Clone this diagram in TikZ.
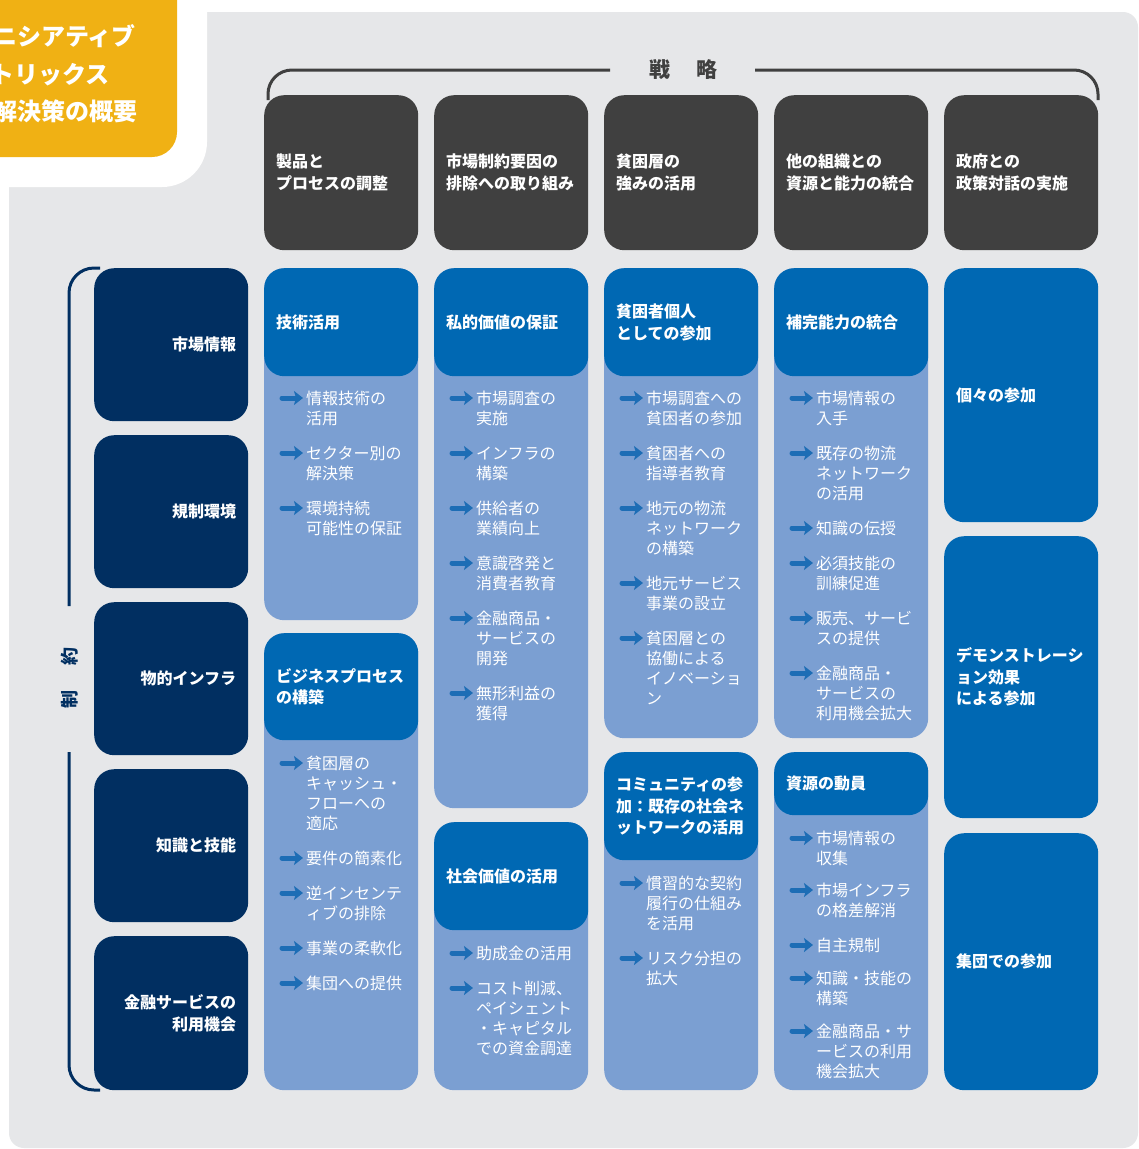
\documentclass[tikz,border=0pt]{standalone}
\usepackage{fontspec}
\setmainfont{Noto Sans CJK JP}
\usetikzlibrary{arrows.meta}
\definecolor{panel}{HTML}{E6E7E9}
\definecolor{yel}{HTML}{F0B114}
\definecolor{darkbx}{HTML}{404040}
\definecolor{navy}{HTML}{012F61}
\definecolor{hblue}{HTML}{0068B3}
\definecolor{lblue}{HTML}{7B9FD2}
\definecolor{bulcol}{HTML}{1D6DB5}
\tikzset{
  boxbase/.style={rounded corners=20pt, inner ysep=0pt, inner xsep=12pt, minimum width=154pt, text width=130pt, anchor=north west},
  darkbox/.style={boxbase, fill=darkbx, text=white, align=left, font=\bfseries\fontsize{16}{22}\selectfont},
  navybox/.style={boxbase, fill=navy, text=white, align=right, font=\bfseries\fontsize{16}{22}\selectfont},
  hdr/.style={boxbase, fill=hblue, text=white, align=left, font=\bfseries\fontsize{16}{21.5}\selectfont},
  bodyst/.style={rounded corners=20pt, inner sep=0pt, minimum width=154pt, anchor=north west, fill=lblue},
  bul/.style={line width=5pt, line cap=round, bulcol, -{Stealth[length=9pt,width=14pt,inset=2pt]}},
  itmtxt/.style={anchor=base west, inner sep=0pt, text=white, font=\fontsize{16}{20}\selectfont},
  bracket/.style={line width=3pt},
}
\newcommand\mycard[6]{%
  \node[bodyst, minimum height={#5-#3}] (#1) at (#2,-#3) {};
  \node[hdr, minimum height={#4-#3}] (#1h) at (#2,-#3) {#6};
}
\newcommand\myitm[4]{%
  \draw[bul] (#2+18,-#3) -- (#2+39,-#3);
  \foreach \lline [count=\k] in {#4} {\node[itmtxt] (#1-\k) at (#2+42,{-(#3+6+20*(\k-1))}) {\lline};}
}
\begin{document}
\begin{tikzpicture}[x=1pt,y=1pt]
\useasboundingbox (0,0) rectangle (1139,-1149);
\clip (0,0) rectangle (1139,-1149);
\fill[white] (0,0) rectangle (1139,-1149);
\fill[panel, rounded corners=15pt] (9,-12) rectangle (1138,-1148);
\fill[white, rounded corners=45pt] (-80,80) rectangle (207,-187);
\fill[yel, rounded corners=25pt] (-80,80) rectangle (177,-157);
\node[anchor=base west, inner sep=0pt, text=white, font=\bfseries\fontsize{24}{24}\selectfont] (y1) at (-7,-45) {ニシアティブ};
\node[anchor=base west, inner sep=0pt, text=white, font=\bfseries\fontsize{24}{24}\selectfont] (y2) at (-10,-83) {トリックス};
\node[anchor=base west, inner sep=0pt, text=white, font=\bfseries\fontsize{24}{24}\selectfont] (y3) at (-7,-120) {解決策の概要};

% strategy bracket
\draw[bracket, darkbx, rounded corners=24pt] (268,-100) -- (268,-70) -- (610,-70);
\draw[bracket, darkbx, rounded corners=24pt] (755,-70) -- (1098,-70) -- (1098,-100);
\node[text=darkbx, font=\bfseries\fontsize{21}{21}\selectfont] (senryaku) at (683,-70) {戦\hspace{26pt}略};

% constraint bracket
\draw[bracket, navy, rounded corners=25pt] (100,-268) -- (69,-268) -- (69,-606);
\draw[bracket, navy, rounded corners=25pt] (69,-752) -- (69,-1090) -- (100,-1090);
\node[rotate=90, text=navy, font=\bfseries\fontsize{18}{18}\selectfont] (seiyaku) at (70,-678) {制\hspace{25pt}約};

% strategy boxes
\node[darkbox, minimum height=155pt] (s1) at (264,-95) {製品と\\プロセスの調整};
\node[darkbox, minimum height=155pt] (s2) at (434,-95) {市場制約要因の\\排除への取り組み};
\node[darkbox, minimum height=155pt] (s3) at (604,-95) {貧困層の\\強みの活用};
\node[darkbox, minimum height=155pt] (s4) at (774,-95) {他の組織との\\資源と能力の統合};
\node[darkbox, minimum height=155pt] (s5) at (944,-95) {政府との\\政策対話の実施};

% constraint boxes
\node[navybox, minimum height=153pt] (k1) at (94,-268) {市場情報};
\node[navybox, minimum height=153pt] (k2) at (94,-435) {規制環境};
\node[navybox, minimum height=153pt] (k3) at (94,-602) {物的インフラ};
\node[navybox, minimum height=153pt] (k4) at (94,-769) {知識と技能};
\node[navybox, minimum height=154pt] (k5) at (94,-936) {金融サービスの\\利用機会};

% column 1
\mycard{c1a}{264}{268}{376}{620}{技術活用}
\myitm{c1a1}{264}{398}{情報技術の,活用}
\myitm{c1a2}{264}{453}{セクター別の,解決策}
\myitm{c1a3}{264}{508}{環境持続,可能性の保証}
\mycard{c1b}{264}{633}{740}{1090}{ビジネスプロセス\\の構築}
\myitm{c1b1}{264}{763}{貧困層の,キャッシュ・,フローへの,適応}
\myitm{c1b2}{264}{858}{要件の簡素化}
\myitm{c1b3}{264}{893}{逆インセンテ,ィブの排除}
\myitm{c1b4}{264}{948}{事業の柔軟化}
\myitm{c1b5}{264}{983}{集団への提供}

% column 2
\mycard{c2a}{434}{268}{376}{808}{私的価値の保証}
\myitm{c2a1}{434}{398}{市場調査の,実施}
\myitm{c2a2}{434}{453}{インフラの,構築}
\myitm{c2a3}{434}{508}{供給者の,業績向上}
\myitm{c2a4}{434}{563}{意識啓発と,消費者教育}
\myitm{c2a5}{434}{618}{金融商品・,サービスの,開発}
\myitm{c2a6}{434}{693}{無形利益の,獲得}
\mycard{c2b}{434}{822}{930}{1090}{社会価値の活用}
\myitm{c2b1}{434}{953}{助成金の活用}
\myitm{c2b2}{434}{988}{コスト削減、,ペイシェント,・キャピタル,での資金調達}

% column 3
\mycard{c3a}{604}{268}{376}{738}{貧困者個人\\としての参加}
\myitm{c3a1}{604}{398}{市場調査への,貧困者の参加}
\myitm{c3a2}{604}{453}{貧困者への,指導者教育}
\myitm{c3a3}{604}{508}{地元の物流,ネットワーク,の構築}
\myitm{c3a4}{604}{583}{地元サービス,事業の設立}
\myitm{c3a5}{604}{638}{貧困層との,協働による,イノベーショ,ン}
\mycard{c3b}{604}{752}{860}{1090}{コミュニティの参\\加：既存の社会ネ\\ットワークの活用}
\myitm{c3b1}{604}{883}{慣習的な契約,履行の仕組み,を活用}
\myitm{c3b2}{604}{958}{リスク分担の,拡大}

% column 4
\mycard{c4a}{774}{268}{376}{738}{補完能力の統合}
\myitm{c4a1}{774}{398}{市場情報の,入手}
\myitm{c4a2}{774}{453}{既存の物流,ネットワーク,の活用}
\myitm{c4a3}{774}{528}{知識の伝授}
\myitm{c4a4}{774}{563}{必須技能の,訓練促進}
\myitm{c4a5}{774}{618}{販売、サービ,スの提供}
\myitm{c4a6}{774}{673}{金融商品・,サービスの,利用機会拡大}
\mycard{c4b}{774}{752}{815}{1090}{資源の動員}
\myitm{c4b1}{774}{838}{市場情報の,収集}
\myitm{c4b2}{774}{890}{市場インフラ,の格差解消}
\myitm{c4b3}{774}{945}{自主規制}
\myitm{c4b4}{774}{978}{知識・技能の,構築}
\myitm{c4b5}{774}{1031}{金融商品・サ,ービスの利用,機会拡大}

% column 5
\node[hdr, minimum height=254pt] (c5a) at (944,-268) {個々の参加};
\node[hdr, minimum height=282pt] (c5b) at (944,-536) {デモンストレーシ\\ョン効果\\による参加};
\node[hdr, minimum height=257pt] (c5c) at (944,-833) {集団での参加};
\end{tikzpicture}
\end{document}
